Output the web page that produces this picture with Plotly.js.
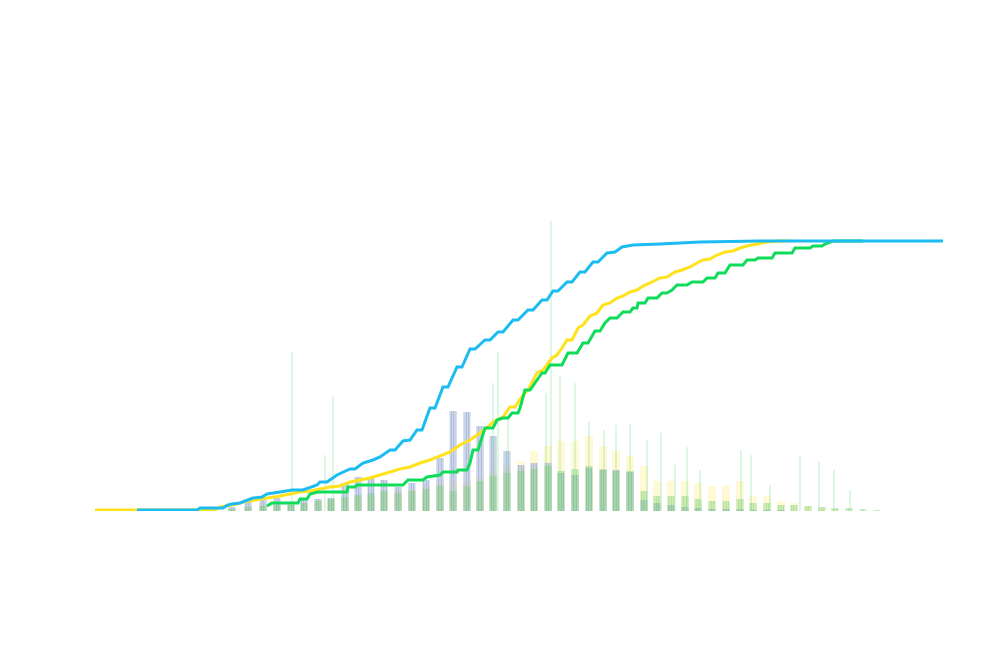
<!DOCTYPE html>
<html>
<head>
<meta charset="utf-8">
<script src="https://cdn.plot.ly/plotly-3.0.1.min.js"></script>
<style>html,body{margin:0;padding:0;background:#fff;}#chart{width:992px;height:661px;}</style>
</head>
<body>
<div id="chart"></div>
<script>
// Cumulative curves
const blueX = [42,102,105,128,133,137,145,152,158,167,172,185,197,208,222,225,232,242,250,255,260,268,278,285,295,300,308,315,322,327,335,340,348,353,362,367,375,380,390,395,403,408,418,423,433,438,447,452,458,463,472,477,485,490,498,503,512,520,527,538,565,605,665,848];
const blueY = [1,1,3,3,6,7,8,11,13,14,17,19,21,21,26,29,29,36,40,42,42,48,51,54,61,61,70,71,81,81,103,103,124,124,144,144,162,162,171,171,179,179,191,191,201,201,211,211,220,220,229,229,239,239,249,249,258,259,264,266,267,269,270,270];

const yellowX = [0,120,125,132,142,148,162,175,185,195,205,215,225,235,245,255,265,275,285,295,305,315,325,335,345,355,365,375,385,393,398,405,408,415,420,428,433,442,448,457,462,467,472,477,483,488,495,502,508,515,522,528,535,542,548,555,565,572,580,587,595,602,608,615,622,630,638,645,652,662,672,685,695];
const yellowY = [1,1,4,5,7,9,11,13,15,17,19,20,22,24,25,29,31,33,36,39,42,44,48,51,55,59,66,71,78,84,89,93,94,104,104,116,121,138,141,153,156,163,171,171,183,186,195,198,206,208,213,215,219,221,225,228,233,234,239,241,244,248,251,252,256,259,260,263,265,267,269,270,270];

const greenX = [172,177,203,205,212,215,223,252,253,260,262,308,313,328,332,345,348,362,363,372,375,378,383,388,390,398,402,408,413,417,423,425,430,435,442,447,450,455,467,473,482,488,493,500,505,510,515,522,528,535,538,542,543,550,553,562,567,572,577,582,592,597,608,612,620,623,630,635,648,652,660,663,677,680,697,700,715,718,727,730,738,768];
const greenY = [5,8,8,12,12,17,19,19,24,24,26,26,31,31,34,36,39,39,41,41,48,61,61,76,83,83,91,93,93,98,98,103,121,121,131,138,138,146,146,158,158,168,168,180,180,188,193,193,199,199,203,203,208,208,213,213,218,218,221,226,226,229,229,233,233,238,238,246,246,251,251,253,253,258,258,263,263,265,265,267,270,270];

// Histogram counts (grouped bins)
const binX = [137,153,168,182,196,209,223,236,250,263,276,289,303,317,331,345,358,372,385,398,412,426,439,453,466,480,494,508,521,535,549,562,576,590,603,617,631,645,658,672,686,699,713,727,740,754,768,782];
const steelCounts = [4,11,11,13,6,11,12,13,28,34,33,31,24,28,31,53,100,99,85,75,60,46,48,48,38,36,43,41,41,39,11,8,6,4,3,2,2,2,1,1,1,0,0,0,0,0,0,0];
const yellowCounts = [3,5,6,6,8,8,10,10,12,14,15,18,20,22,25,28,30,30,34,40,45,50,60,65,70,70,75,65,60,55,45,30,30,30,28,25,25,30,15,15,10,8,5,3,2,0,0,0];
const greenCounts = [2,4,5,6,7,8,10,12,14,16,18,20,18,20,22,25,20,25,30,35,38,40,42,45,40,42,45,42,40,40,20,15,15,15,12,10,10,12,8,8,6,6,5,4,3,3,2,1];
const spikeX = [197,230,238,398,403,413,451,456,465,480,494,509,521,535,552,566,580,592,605,646,656,675,705,724,739,755];
const spikeCounts = [159,56,114,128,159,91,118,290,136,128,89,81,86,87,71,78,46,64,41,61,56,26,56,49,41,21];

const stripes = (c) => ({shape:'|', size:2.5, solidity:0.7, fgcolor:c, bgcolor:'rgba(0,0,0,0)', fillmode:'replace'});

const traces = [
  {type:'bar', x:binX, y:yellowCounts, width:8, marker:{color:'rgba(255,240,150,0.4)', line:{width:0}}, hoverinfo:'skip'},
  {type:'bar', x:binX, y:steelCounts, width:7, marker:{color:'rgba(155,173,212,0.9)', line:{width:0}, pattern:stripes('rgba(155,173,212,0.9)')}, hoverinfo:'skip'},
  {type:'bar', x:binX, y:greenCounts, width:7, marker:{color:'rgba(110,205,110,0.6)', line:{width:0}, pattern:stripes('rgba(110,205,110,0.6)')}, hoverinfo:'skip'},
  {type:'bar', x:spikeX, y:spikeCounts, width:1, marker:{color:'rgba(130,225,150,0.55)', line:{width:0}}, hoverinfo:'skip'},
  {type:'scatter', mode:'lines', x:yellowX, y:yellowY, line:{color:'#ffe21c', width:3}},
  {type:'scatter', mode:'lines', x:greenX, y:greenY, line:{color:'#10dc5a', width:3}},
  {type:'scatter', mode:'lines', x:blueX, y:blueY, line:{color:'#1cbcf2', width:3}}
];

const layout = {
  width:992, height:661,
  margin:{l:95, r:49, t:100, b:150},
  paper_bgcolor:'#fff', plot_bgcolor:'#fff',
  showlegend:false,
  barmode:'overlay',
  xaxis:{range:[0,848], visible:false, fixedrange:true},
  yaxis:{range:[0,411], visible:false, fixedrange:true}
};
Plotly.newPlot('chart', traces, layout, {displayModeBar:false, staticPlot:true});
</script>
</body>
</html>
